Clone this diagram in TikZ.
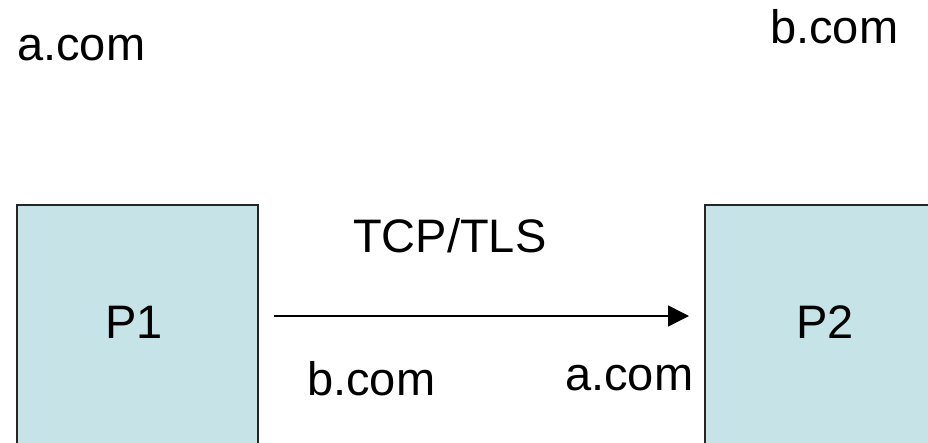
\documentclass[tikz,border=0pt]{standalone}
\usepackage{fontspec}
\setmainfont{Liberation Sans}
\usepackage{xcolor}
\usetikzlibrary{arrows.meta,positioning}

\definecolor{boxfill}{RGB}{198,228,232}

\begin{document}
\begin{tikzpicture}[x=1pt, y=1pt,
  every node/.style = {font=\fontsize{47}{56}\selectfont, inner sep=0pt},
  procbox/.style = {draw=black!85, line width=1.6pt, fill=boxfill,
    minimum width=241pt, minimum height=320pt, anchor=north west},
  tag/.style = {anchor=base west},
  link/.style = {line width=1.5pt, -{Triangle[length=21pt,width=21pt]}}]
  \clip (0,0) rectangle (928,-442);
  \node[procbox] (p1) at (16,-204) {};
  \node[procbox] (p2) at (704,-204) {};
  \node (p1text) at ([xshift=-3pt,yshift=-118pt]p1.north) {P1};
  \node (p2text) at ([yshift=-118pt]p2.north) {P2};
  \draw[link] ([xshift=15pt,yshift=-112pt]p1.north east)
    -- ([xshift=-15pt,yshift=-112pt]p2.north west);
  \node[tag] (tcp) at (353,-252) {TCP/TLS};
  \node[tag] (toplefta) at (17,-60) {a.com};
  \node[tag] (toprightb) at (770,-43) {b.com};
  \node[tag] (lowb) at (307,-395) {b.com};
  \node[tag] (lowa) at (565,-390) {a.com};
\end{tikzpicture}
\end{document}
